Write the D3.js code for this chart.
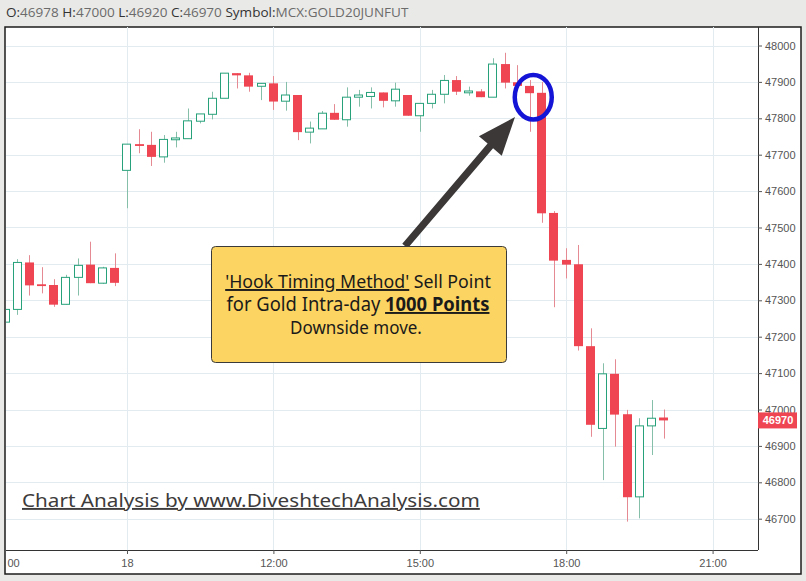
<!DOCTYPE html>
<html><head><meta charset="utf-8">
<script src="https://cdn.jsdelivr.net/npm/d3@7"></script>
<style>body{margin:0;background:#e9e9e7;} svg{display:block}</style>
</head><body><svg id="c" width="806" height="581"></svg>
<script>
// ---- data (15-min candles, MCX GOLD20JUNFUT) ----
const times = ["21:00","21:15","21:30","21:45","22:00","22:15","22:30","22:45","23:00","23:15",
  "09:00","09:15","09:30","09:45","10:00","10:15","10:30","10:45","11:00","11:15","11:30","11:45",
  "12:00","12:15","12:30","12:45","13:00","13:15","13:30","13:45","14:00","14:15","14:30","14:45",
  "15:00","15:15","15:30","15:45","16:00","16:15","16:30","16:45","17:00","17:15","17:30","17:45",
  "18:00","18:15","18:30","18:45","19:00","19:15","19:30","19:45","20:00"];
const opens  = [47240,47275,47404,47344,47342,47289,47363,47398,47347,47389,
  47657,47729,47727,47694,47742,47744,47792,47811,47855,47924,47918,47888,
  47896,47847,47864,47762,47771,47815,47796,47858,47860,47871,47848,47864,
  47807,47841,47866,47905,47873,47874,47858,47949,47899,47889,47870,47540,
  47411,47399,47174,46948,47098,46987,46760,46955,46978];
const highs  = [47280,47413,47424,47391,47358,47370,47415,47461,47392,47429,
  47729,47770,47763,47754,47763,47827,47812,47873,47924,47924,47925,47896,
  47916,47900,47864,47791,47820,47839,47885,47878,47885,47871,47898,47864,
  47841,47878,47919,47916,47887,47880,47965,47980,47946,47905,47900,47545,
  47443,47452,47223,47127,47138,46999,46976,47026,47000];
const lows   = [47232,47260,47313,47319,47282,47288,47313,47347,47345,47339,
  47553,47704,47669,47678,47720,47744,47786,47797,47855,47882,47873,47850,
  47823,47821,47740,47731,47771,47796,47777,47832,47827,47830,47832,47807,
  47763,47827,47841,47864,47862,47858,47858,47882,47880,47763,47513,47281,
  47360,47162,46925,46806,46898,46692,46701,46875,46920];
const closes = [47275,47404,47341,47341,47288,47363,47396,47347,47389,47348,
  47729,47725,47694,47742,47746,47793,47812,47855,47924,47918,47887,47896,
  47846,47864,47762,47773,47814,47796,47858,47864,47871,47848,47880,47807,
  47841,47866,47904,47873,47875,47858,47949,47898,47889,47869,47539,47409,
  47398,47174,46958,47098,46986,46759,46955,46976,46970];
const yTicks = [46700,46800,46900,47000,47100,47200,47300,47400,47500,47600,47700,47800,47900,48000];
const xTickIndex  = [0,10,22,34,46,58];
const xTickLabels = ["00","18","12:00","15:00","18:00","21:00"];
const lastPrice = 46970;

const svg = d3.select("#c");
const L = 5, R = 758, T = 27, B = 550;
const x = d3.scaleLinear().domain([0, 61.64]).range([5, 757]);
const y = d3.scaleLinear().domain([46600, 48000]).range([555.1, 45.5]);
const up = "#26a17a", dn = "#ef4452";

// helper: squeeze a text horizontally to a target width (keeps glyph height)
function fitX(gSel, tx, ty, target) {
  const t = gSel.select("text").node();
  const w = t.getComputedTextLength();
  const s = w > 0 ? target / w : 1;
  gSel.attr("transform", `translate(${tx},${ty}) scale(${s},1)`);
}

// header
const hg = svg.append("g");
const hdr = hg.append("text").attr("x", 0).attr("y", 0)
  .style("font-family", "'Open Sans', sans-serif").style("font-size", "13px");
[["O:", opens[54]], [" H:", highs[54]], [" L:", lows[54]], [" C:", closes[54]], [" Symbol:", "MCX:GOLD20JUNFUT"]]
  .forEach(([k, v]) => {
    hdr.append("tspan").attr("fill", "#333").text(k);
    hdr.append("tspan").attr("fill", "#6b6b6b").text(v);
  });
fitX(hg, 6, 17, 403);

// panel
svg.append("rect").attr("x", 5).attr("y", 27).attr("width", 796).attr("height", 547)
  .attr("fill", "#fff").attr("stroke", "#1c1c1c").attr("stroke-width", 1.5);

svg.append("clipPath").attr("id", "plot").append("rect")
  .attr("x", 6).attr("y", T).attr("width", R - 6).attr("height", B - T);
const g = svg.append("g").attr("clip-path", "url(#plot)");

// grid
g.selectAll(".hg").data(yTicks).join("line")
  .attr("x1", L).attr("x2", R).attr("y1", d => Math.round(y(d)) + 0.5).attr("y2", d => Math.round(y(d)) + 0.5)
  .attr("stroke", "#e2ebf0").attr("stroke-width", 1);
g.selectAll(".vg").data(xTickIndex).join("line")
  .attr("y1", T).attr("y2", B).attr("x1", d => Math.round(x(d)) + 0.5).attr("x2", d => Math.round(x(d)) + 0.5)
  .attr("stroke", "#e2ebf0").attr("stroke-width", 1);

// candles
const idx = d3.range(times.length);
const isUp = i => closes[i] >= opens[i];
g.selectAll(".wick").data(idx).join("line")
  .attr("x1", i => Math.round(x(i)) + 0.5).attr("x2", i => Math.round(x(i)) + 0.5)
  .attr("y1", i => y(highs[i])).attr("y2", i => y(lows[i]))
  .attr("stroke", i => isUp(i) ? "#86bfa9" : "#e58a92").attr("stroke-width", 1);
g.selectAll(".body").data(idx).join("rect")
  .attr("x", i => isUp(i) ? Math.round(x(i) - 4.5) + 0.5 : Math.round(x(i) - 4.5))
  .attr("width", i => isUp(i) ? 8 : 9)
  .attr("y", i => y(Math.max(opens[i], closes[i])))
  .attr("height", i => Math.max(1.8, Math.abs(y(opens[i]) - y(closes[i]))))
  .attr("fill", i => isUp(i) ? "#fff" : dn)
  .attr("stroke", i => isUp(i) ? up : "none").attr("stroke-width", 1);

// right axis
const ya = svg.append("g").attr("transform", `translate(${R},0)`)
  .call(d3.axisRight(y).tickValues(yTicks).tickSize(4).tickPadding(3).tickFormat(d3.format("d")));
ya.select(".domain").attr("d", `M0.5,${T}V${B}`).attr("stroke", "#333");
ya.selectAll(".tick line").attr("stroke", "#555");
ya.selectAll("text").attr("fill", "#555").style("font-family", "'Liberation Sans', Arial, sans-serif").style("font-size", "11px");

// bottom axis
const xa = svg.append("g").attr("transform", `translate(0,${B})`)
  .call(d3.axisBottom(x).tickValues(xTickIndex).tickSize(4).tickPadding(5).tickFormat((d, k) => xTickLabels[k]));
xa.select(".domain").attr("d", `M${L},0.5H${R}`).attr("stroke", "#333");
xa.selectAll(".tick line").attr("stroke", "#555");
xa.selectAll("text").attr("fill", "#555").style("font-family", "'Liberation Sans', Arial, sans-serif").style("font-size", "11px");
// first label: only the tail of "21:00" shows past the panel edge
xa.selectAll(".tick").filter((d, k) => k === 0).select("text").attr("text-anchor", "start").attr("x", 2);

// last price label
const py = y(lastPrice);
svg.append("rect").attr("x", R).attr("y", py - 8).attr("width", 39).attr("height", 16).attr("fill", dn);
svg.append("text").attr("x", R + 20).attr("y", py + 4).attr("text-anchor", "middle")
  .attr("fill", "#fff").style("font-family", "'Liberation Sans', Arial, sans-serif").style("font-size", "11px").style("font-weight", "bold")
  .text(lastPrice);

// arrow
const S = [405, 246], Tp = [515, 117];
const dx = Tp[0] - S[0], dy = Tp[1] - S[1], len = Math.hypot(dx, dy);
const u = [dx / len, dy / len], n = [-u[1], u[0]];
const hl = 38, hw = 15, sw = 3.6;
const Bc = [Tp[0] - hl * u[0], Tp[1] - hl * u[1]];
const pts = [
  [S[0] + sw * n[0], S[1] + sw * n[1]],
  [Bc[0] + sw * n[0], Bc[1] + sw * n[1]],
  [Bc[0] + hw * n[0], Bc[1] + hw * n[1]],
  Tp,
  [Bc[0] - hw * n[0], Bc[1] - hw * n[1]],
  [Bc[0] - sw * n[0], Bc[1] - sw * n[1]],
  [S[0] - sw * n[0], S[1] - sw * n[1]]
];
svg.append("polygon").attr("points", pts.map(p => p.join(",")).join(" ")).attr("fill", "#3b3837");

// ellipse highlight
svg.append("ellipse").attr("cx", x(43.3)).attr("cy", y(47858)).attr("rx", 18.5).attr("ry", 22.3)
  .attr("fill", "none").attr("stroke", "#1414d6").attr("stroke-width", 4.5);

// annotation box
svg.append("rect").attr("x", 211.5).attr("y", 246.5).attr("width", 295).attr("height", 116).attr("rx", 4)
  .attr("fill", "#fcd462").attr("stroke", "#3a3a3a").attr("stroke-width", 1);
const af = "'Noto Sans', 'Open Sans', sans-serif";
function boxLine(tx, ty, target, parts) {
  const lg = svg.append("g");
  const t = lg.append("text").attr("x", 0).attr("y", 0).attr("text-anchor", "middle")
    .attr("fill", "#1a1a1a").style("font-family", af).style("font-size", "19px");
  parts.forEach(p => {
    const ts = t.append("tspan").text(p.t);
    if (p.u) ts.style("text-decoration", "underline");
    if (p.b) ts.style("font-weight", "bold");
  });
  fitX(lg, tx, ty, target);
}
boxLine(358, 288, 266, [{t: "'Hook Timing Method'", u: true}, {t: " Sell Point"}]);
boxLine(358, 311, 263, [{t: "for Gold Intra-day "}, {t: "1000 Points", u: true, b: true}]);
boxLine(356, 334, 132, [{t: "Downside move."}]);

// footer credit
const fg = svg.append("g");
fg.append("text").attr("x", 0).attr("y", 0)
  .attr("fill", "#3d3b3b").style("font-family", af).style("font-size", "19px")
  .style("text-decoration", "underline")
  .text("Chart Analysis by www.DiveshtechAnalysis.com");
fitX(fg, 22, 507, 458);
</script></body></html>
